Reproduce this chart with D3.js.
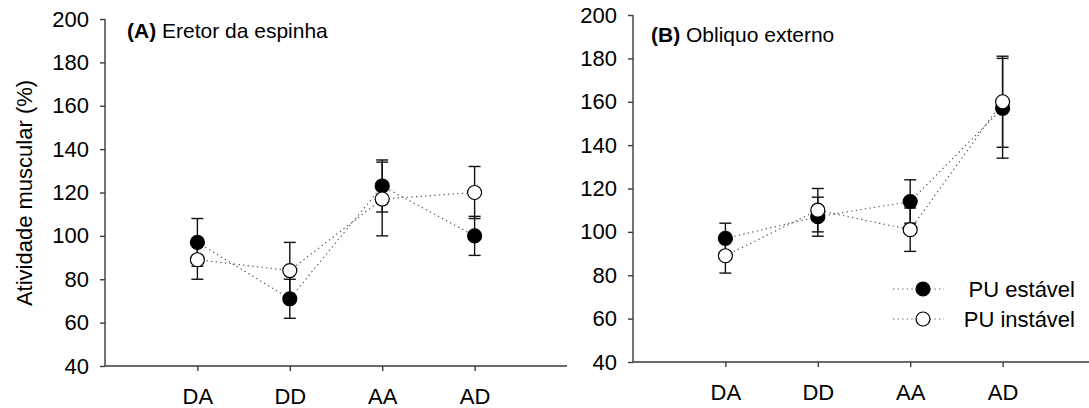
<!DOCTYPE html>
<html>
<head>
<meta charset="utf-8">
<script src="https://cdn.jsdelivr.net/npm/d3@7"></script>
<style>
  html, body { margin: 0; padding: 0; background: #fff; }
  svg { display: block; font-family: "Liberation Sans", Arial, Helvetica, sans-serif; }
</style>
</head>
<body>
<svg id="chart" width="1089" height="408"></svg>
<script>
// Conditions on the x axis
const categories = ["DA", "DD", "AA", "AD"];
const yTicks = [40, 60, 80, 100, 120, 140, 160, 180, 200];

// (A) Eretor da espinha — mean and error (%)
const erectorStable = [97, 71, 123, 100];
const erectorStableErr = [11, 9, 12, 9];
const erectorUnstable = [89, 84, 117, 120];
const erectorUnstableErr = [9, 13, 17, 12];

// (B) Obliquo externo — mean and error (%)
const obliqueStable = [97, 107, 114, 157];
const obliqueStableErr = [7, 9, 10, 23];
const obliqueUnstable = [89, 110, 101, 160];
const obliqueUnstableErr = [8, 10, 10, 21];

const seriesNames = ["PU estável", "PU instável"];

const FONT = 22;
const TITLE_FONT = 21;
const svg = d3.select("#chart");

function drawPanel(cfg) {
  const g = svg.append("g");
  const x = d3.scalePoint().domain(categories).range([cfg.left, cfg.right]).padding(1);
  const y = d3.scaleLinear().domain([40, 200]).range([cfg.bottom, cfg.top]);

  // y axis
  const ya = g.append("g")
    .attr("transform", `translate(${cfg.left},0)`)
    .call(d3.axisLeft(y).tickValues(yTicks).tickSize(5).tickPadding(11));
  // x axis
  const xa = g.append("g")
    .attr("transform", `translate(0,${cfg.bottom})`)
    .call(d3.axisBottom(x).tickSize(5).tickPadding(17));
  [ya, xa].forEach(a => {
    a.select(".domain").attr("stroke", "#3a3a3a").attr("stroke-width", 1.4);
    a.selectAll(".tick line").attr("stroke", "#3a3a3a").attr("stroke-width", 1.4);
    a.selectAll(".tick text").attr("fill", "#000").style("font-size", FONT + "px")
      .style("font-family", "Liberation Sans, Arial, sans-serif");
  });
  // plain axis lines without outer end ticks
  ya.select(".domain").attr("d", `M0,${cfg.bottom}V${cfg.top}`);
  xa.select(".domain").attr("d", `M${cfg.left},0H${cfg.right}`);

  const series = [
    { vals: cfg.stable, err: cfg.stableErr, fill: "#000" },
    { vals: cfg.unstable, err: cfg.unstableErr, fill: "#fff" }
  ];

  const line = d3.line().x((d, i) => x(categories[i])).y(d => y(d));

  // dotted connectors
  series.forEach(s => {
    g.append("path").datum(s.vals)
      .attr("d", line)
      .attr("fill", "none")
      .attr("stroke", "#555")
      .attr("stroke-width", 1.2)
      .attr("stroke-dasharray", "1.3,3.3");
  });

  // error bars
  const cap = 6;
  series.forEach(s => {
    s.vals.forEach((v, i) => {
      const cx = x(categories[i]);
      const lo = y(v - s.err[i]), hi = y(v + s.err[i]);
      const eb = g.append("g").attr("stroke", "#111").attr("stroke-width", 1.4);
      eb.append("line").attr("x1", cx).attr("x2", cx).attr("y1", lo).attr("y2", hi);
      eb.append("line").attr("x1", cx - cap).attr("x2", cx + cap).attr("y1", lo).attr("y2", lo);
      eb.append("line").attr("x1", cx - cap).attr("x2", cx + cap).attr("y1", hi).attr("y2", hi);
    });
  });

  // markers: filled series first, open series on top
  series.forEach(s => {
    g.append("g").selectAll("circle").data(s.vals).join("circle")
      .attr("cx", (d, i) => x(categories[i]))
      .attr("cy", d => y(d))
      .attr("r", 7)
      .attr("fill", s.fill)
      .attr("stroke", "#000")
      .attr("stroke-width", 1.2);
  });

  // panel title
  const t = g.append("text")
    .attr("x", cfg.titleX).attr("y", cfg.titleY)
    .style("font-size", TITLE_FONT + "px").attr("fill", "#000");
  t.append("tspan").attr("font-weight", "bold").text(cfg.letter);
  t.append("tspan").text(" " + cfg.title);

  return { x, y };
}

drawPanel({
  left: 105, right: 567, top: 19, bottom: 366,
  stable: erectorStable, stableErr: erectorStableErr,
  unstable: erectorUnstable, unstableErr: erectorUnstableErr,
  letter: "(A)", title: "Eretor da espinha", titleX: 127, titleY: 38
});

drawPanel({
  left: 633, right: 1095, top: 15, bottom: 362,
  stable: obliqueStable, stableErr: obliqueStableErr,
  unstable: obliqueUnstable, unstableErr: obliqueUnstableErr,
  letter: "(B)", title: "Obliquo externo", titleX: 651, titleY: 42
});

// y axis title
svg.append("text")
  .attr("transform", "translate(32,193) rotate(-90)")
  .attr("text-anchor", "middle")
  .style("font-size", FONT + "px")
  .attr("fill", "#000")
  .text("Atividade muscular (%)");

// legend
const legend = svg.append("g");
const legendRows = [
  { name: seriesNames[0], fill: "#000", cy: 289 },
  { name: seriesNames[1], fill: "#fff", cy: 319 }
];
legendRows.forEach(r => {
  legend.append("line")
    .attr("x1", 893).attr("x2", 944).attr("y1", r.cy).attr("y2", r.cy)
    .attr("stroke", "#555").attr("stroke-width", 1.2).attr("stroke-dasharray", "1.3,3.3");
  legend.append("circle")
    .attr("cx", 923).attr("cy", r.cy).attr("r", 7)
    .attr("fill", r.fill).attr("stroke", "#000").attr("stroke-width", 1.2);
  legend.append("text")
    .attr("x", 1075).attr("y", r.cy + 8)
    .attr("text-anchor", "end")
    .style("font-size", FONT + "px")
    .attr("fill", "#000")
    .text(r.name);
});
</script>
</body>
</html>
